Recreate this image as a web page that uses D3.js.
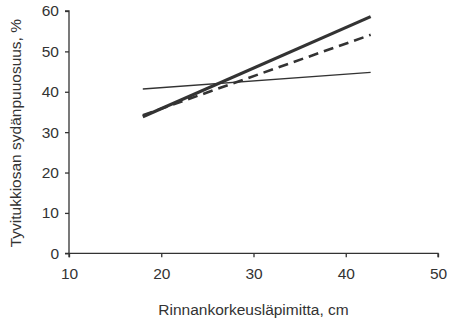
<!DOCTYPE html>
<html><head><meta charset="utf-8">
<script src="https://cdn.jsdelivr.net/npm/d3@7"></script>
<style>body{margin:0;background:#fff}svg{display:block}text{font-family:"Liberation Sans",Arial,sans-serif;fill:#333}</style>
</head><body>
<script>
const xTicks = [10, 20, 30, 40, 50];
const yTicks = [0, 10, 20, 30, 40, 50, 60];
const seriesNames = ["thick", "dashed", "thin"];
const xStart = [18, 18, 18];
const xEnd = [42.7, 42.7, 42.7];
const yStart = [33.8, 34.2, 40.7];
const yEnd = [58.6, 54.1, 44.8];
const xTitle = "Rinnankorkeusläpimitta, cm";
const yTitle = "Tyvitukkiosan sydänpuuosuus, %";

const W = 452, H = 324;
const svg = d3.select("body").append("svg").attr("width", W).attr("height", H);
const x = d3.scaleLinear().domain([10, 50]).range([69, 438]);
const y = d3.scaleLinear().domain([0, 60]).range([253.3, 11]);
const col = "#333";

const gx = svg.append("g").attr("transform", `translate(0,${y(0)})`)
  .call(d3.axisBottom(x).tickValues(xTicks).tickSize(4).tickPadding(11));
const gy = svg.append("g").attr("transform", `translate(${x(10)},0)`)
  .call(d3.axisLeft(y).tickValues(yTicks).tickSize(4).tickPadding(6));
[gx, gy].forEach(g => {
  g.selectAll("path,line").attr("stroke", col).attr("stroke-width", 1.3);
  g.selectAll("text").attr("font-size", 15.5).attr("fill", col).attr("font-family", "Liberation Sans, Arial, sans-serif");
});
gx.select(".domain").attr("d", `M${x(10)},4V0H${x(50)}V4`);
gy.select(".domain").attr("d", `M-4,${y(60)}H0V${y(0)}H-4`);

const styles = {
  thick: {w: 3.2, dash: null},
  dashed: {w: 2.6, dash: "10,6"},
  thin: {w: 1.4, dash: null}
};
const line = d3.line().x(d => x(d[0])).y(d => y(d[1]));
seriesNames.forEach((n, i) => {
  svg.append("path")
    .datum([[xStart[i], yStart[i]], [xEnd[i], yEnd[i]]])
    .attr("d", line).attr("fill", "none").attr("stroke", col)
    .attr("stroke-width", styles[n].w)
    .attr("stroke-dasharray", styles[n].dash);
});

svg.append("text").attr("x", (x(10) + x(50)) / 2).attr("y", 315)
  .attr("text-anchor", "middle").attr("font-size", 15.5).text(xTitle);
svg.append("text").attr("transform", `translate(21,${(y(0) + y(60)) / 2 + 1}) rotate(-90)`)
  .attr("text-anchor", "middle").attr("font-size", 15.5).text(yTitle);
</script>
</body></html>
